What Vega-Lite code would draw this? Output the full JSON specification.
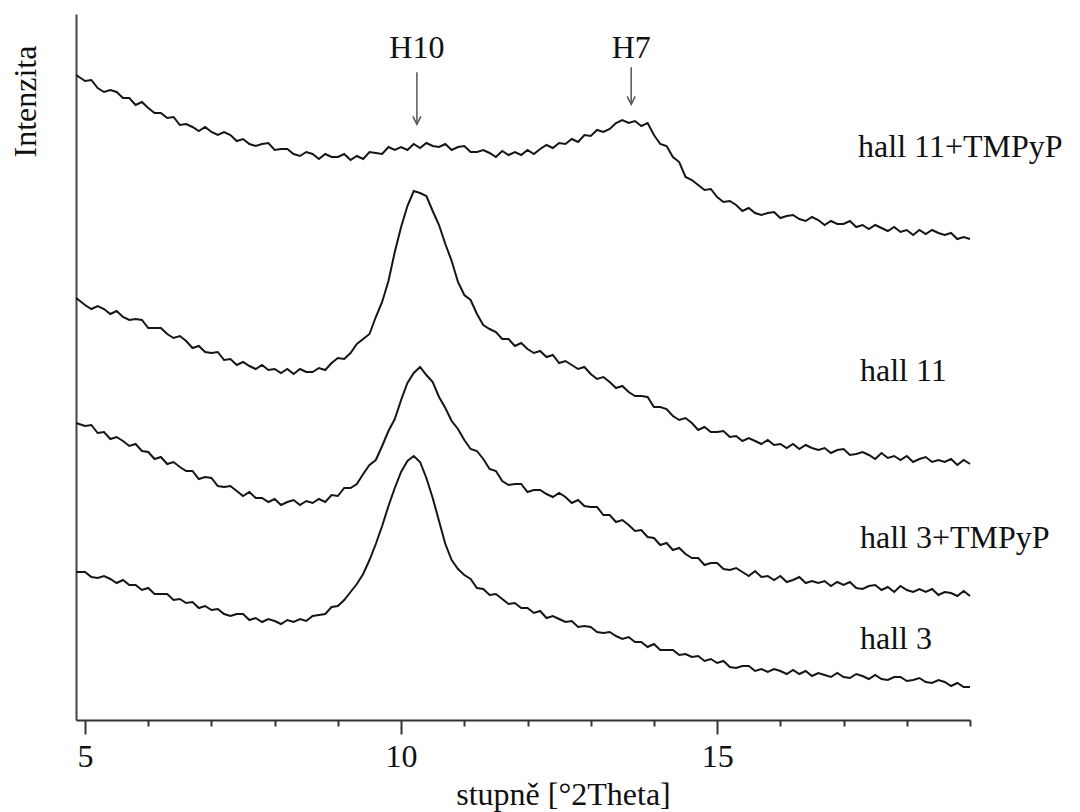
{
"$schema": "https://vega.github.io/schema/vega-lite/v6.json",
"width": 894, "height": 706,
"autosize": "none",
"padding": {"left": 76, "top": 14, "right": 110, "bottom": 92},
"background": "white",
"config": {"view": {"stroke": null}, "font": "Liberation Serif"},
"datasets": {
"curves": [
{"s":"A","x":4.86,"y":645},{"s":"A","x":5.0,"y":639},{"s":"A","x":5.1,"y":640},{"s":"A","x":5.2,"y":632},{"s":"A","x":5.3,"y":628},{"s":"A","x":5.4,"y":630},{"s":"A","x":5.5,"y":628},{"s":"A","x":5.6,"y":622},{"s":"A","x":5.7,"y":622},{"s":"A","x":5.8,"y":615},{"s":"A","x":5.9,"y":618},{"s":"A","x":6.0,"y":612},{"s":"A","x":6.1,"y":607},{"s":"A","x":6.2,"y":607},{"s":"A","x":6.3,"y":602},{"s":"A","x":6.4,"y":603},{"s":"A","x":6.5,"y":595},{"s":"A","x":6.6,"y":596},{"s":"A","x":6.7,"y":593},{"s":"A","x":6.8,"y":589},{"s":"A","x":6.9,"y":593},{"s":"A","x":7.0,"y":588},{"s":"A","x":7.1,"y":585},{"s":"A","x":7.2,"y":588},{"s":"A","x":7.3,"y":585},{"s":"A","x":7.4,"y":579},{"s":"A","x":7.5,"y":581},{"s":"A","x":7.6,"y":576},{"s":"A","x":7.7,"y":574},{"s":"A","x":7.8,"y":576},{"s":"A","x":7.9,"y":577},{"s":"A","x":8.0,"y":570},{"s":"A","x":8.1,"y":571},{"s":"A","x":8.2,"y":571},{"s":"A","x":8.3,"y":566},{"s":"A","x":8.4,"y":564},{"s":"A","x":8.5,"y":568},{"s":"A","x":8.6,"y":566},{"s":"A","x":8.7,"y":561},{"s":"A","x":8.8,"y":566},{"s":"A","x":8.9,"y":563},{"s":"A","x":9.0,"y":563},{"s":"A","x":9.1,"y":566},{"s":"A","x":9.2,"y":560},{"s":"A","x":9.3,"y":564},{"s":"A","x":9.4,"y":561},{"s":"A","x":9.5,"y":568},{"s":"A","x":9.6,"y":567},{"s":"A","x":9.7,"y":566},{"s":"A","x":9.8,"y":573},{"s":"A","x":9.9,"y":570},{"s":"A","x":10.0,"y":573},{"s":"A","x":10.1,"y":570},{"s":"A","x":10.2,"y":576},{"s":"A","x":10.3,"y":572},{"s":"A","x":10.4,"y":577},{"s":"A","x":10.5,"y":574},{"s":"A","x":10.6,"y":573},{"s":"A","x":10.7,"y":576},{"s":"A","x":10.8,"y":570},{"s":"A","x":10.9,"y":573},{"s":"A","x":11.0,"y":574},{"s":"A","x":11.1,"y":568},{"s":"A","x":11.2,"y":568},{"s":"A","x":11.3,"y":570},{"s":"A","x":11.4,"y":567},{"s":"A","x":11.5,"y":563},{"s":"A","x":11.6,"y":569},{"s":"A","x":11.7,"y":565},{"s":"A","x":11.8,"y":568},{"s":"A","x":11.9,"y":565},{"s":"A","x":12.0,"y":570},{"s":"A","x":12.1,"y":566},{"s":"A","x":12.2,"y":571},{"s":"A","x":12.3,"y":575},{"s":"A","x":12.4,"y":572},{"s":"A","x":12.5,"y":577},{"s":"A","x":12.6,"y":576},{"s":"A","x":12.7,"y":581},{"s":"A","x":12.8,"y":578},{"s":"A","x":12.9,"y":585},{"s":"A","x":13.0,"y":584},{"s":"A","x":13.1,"y":590},{"s":"A","x":13.2,"y":588},{"s":"A","x":13.3,"y":591},{"s":"A","x":13.4,"y":597},{"s":"A","x":13.5,"y":600},{"s":"A","x":13.6,"y":597},{"s":"A","x":13.7,"y":599},{"s":"A","x":13.8,"y":594},{"s":"A","x":13.9,"y":597},{"s":"A","x":14.0,"y":585},{"s":"A","x":14.1,"y":576},{"s":"A","x":14.2,"y":574},{"s":"A","x":14.3,"y":563},{"s":"A","x":14.4,"y":558},{"s":"A","x":14.5,"y":543},{"s":"A","x":14.6,"y":540},{"s":"A","x":14.7,"y":535},{"s":"A","x":14.8,"y":530},{"s":"A","x":14.9,"y":531},{"s":"A","x":15.0,"y":523},{"s":"A","x":15.1,"y":518},{"s":"A","x":15.2,"y":519},{"s":"A","x":15.3,"y":515},{"s":"A","x":15.4,"y":509},{"s":"A","x":15.5,"y":512},{"s":"A","x":15.6,"y":507},{"s":"A","x":15.7,"y":505},{"s":"A","x":15.8,"y":507},{"s":"A","x":15.9,"y":508},{"s":"A","x":16.0,"y":502},{"s":"A","x":16.1,"y":504},{"s":"A","x":16.2,"y":505},{"s":"A","x":16.3,"y":501},{"s":"A","x":16.4,"y":499},{"s":"A","x":16.5,"y":503},{"s":"A","x":16.6,"y":500},{"s":"A","x":16.7,"y":495},{"s":"A","x":16.8,"y":499},{"s":"A","x":16.9,"y":496},{"s":"A","x":17.0,"y":496},{"s":"A","x":17.1,"y":499},{"s":"A","x":17.2,"y":493},{"s":"A","x":17.3,"y":495},{"s":"A","x":17.4,"y":491},{"s":"A","x":17.5,"y":495},{"s":"A","x":17.6,"y":492},{"s":"A","x":17.7,"y":489},{"s":"A","x":17.8,"y":493},{"s":"A","x":17.9,"y":488},{"s":"A","x":18.0,"y":490},{"s":"A","x":18.1,"y":485},{"s":"A","x":18.2,"y":490},{"s":"A","x":18.3,"y":486},{"s":"A","x":18.4,"y":490},{"s":"A","x":18.5,"y":487},{"s":"A","x":18.6,"y":485},{"s":"A","x":18.7,"y":487},{"s":"A","x":18.8,"y":481},{"s":"A","x":18.9,"y":483},{"s":"A","x":19.0,"y":481},
{"s":"B","x":4.86,"y":422},{"s":"B","x":5.0,"y":415},{"s":"B","x":5.1,"y":411},{"s":"B","x":5.2,"y":414},{"s":"B","x":5.3,"y":411},{"s":"B","x":5.4,"y":406},{"s":"B","x":5.5,"y":409},{"s":"B","x":5.6,"y":403},{"s":"B","x":5.7,"y":400},{"s":"B","x":5.8,"y":401},{"s":"B","x":5.9,"y":400},{"s":"B","x":6.0,"y":392},{"s":"B","x":6.1,"y":392},{"s":"B","x":6.2,"y":392},{"s":"B","x":6.3,"y":386},{"s":"B","x":6.4,"y":382},{"s":"B","x":6.5,"y":384},{"s":"B","x":6.6,"y":379},{"s":"B","x":6.7,"y":372},{"s":"B","x":6.8,"y":374},{"s":"B","x":6.9,"y":368},{"s":"B","x":7.0,"y":367},{"s":"B","x":7.1,"y":368},{"s":"B","x":7.2,"y":360},{"s":"B","x":7.3,"y":361},{"s":"B","x":7.4,"y":355},{"s":"B","x":7.5,"y":358},{"s":"B","x":7.6,"y":354},{"s":"B","x":7.7,"y":351},{"s":"B","x":7.8,"y":355},{"s":"B","x":7.9,"y":350},{"s":"B","x":8.0,"y":351},{"s":"B","x":8.1,"y":347},{"s":"B","x":8.2,"y":351},{"s":"B","x":8.3,"y":346},{"s":"B","x":8.4,"y":351},{"s":"B","x":8.5,"y":348},{"s":"B","x":8.6,"y":348},{"s":"B","x":8.7,"y":352},{"s":"B","x":8.8,"y":350},{"s":"B","x":8.9,"y":357},{"s":"B","x":9.0,"y":362},{"s":"B","x":9.1,"y":361},{"s":"B","x":9.2,"y":367},{"s":"B","x":9.3,"y":376},{"s":"B","x":9.4,"y":381},{"s":"B","x":9.5,"y":386},{"s":"B","x":9.6,"y":403},{"s":"B","x":9.7,"y":418},{"s":"B","x":9.8,"y":439},{"s":"B","x":9.9,"y":468},{"s":"B","x":10.0,"y":493},{"s":"B","x":10.1,"y":514},{"s":"B","x":10.2,"y":529},{"s":"B","x":10.3,"y":527},{"s":"B","x":10.4,"y":524},{"s":"B","x":10.5,"y":509},{"s":"B","x":10.6,"y":495},{"s":"B","x":10.7,"y":476},{"s":"B","x":10.8,"y":459},{"s":"B","x":10.9,"y":438},{"s":"B","x":11.0,"y":425},{"s":"B","x":11.1,"y":420},{"s":"B","x":11.2,"y":406},{"s":"B","x":11.3,"y":395},{"s":"B","x":11.4,"y":391},{"s":"B","x":11.5,"y":388},{"s":"B","x":11.6,"y":381},{"s":"B","x":11.7,"y":381},{"s":"B","x":11.8,"y":374},{"s":"B","x":11.9,"y":377},{"s":"B","x":12.0,"y":371},{"s":"B","x":12.1,"y":367},{"s":"B","x":12.2,"y":369},{"s":"B","x":12.3,"y":363},{"s":"B","x":12.4,"y":365},{"s":"B","x":12.5,"y":357},{"s":"B","x":12.6,"y":359},{"s":"B","x":12.7,"y":355},{"s":"B","x":12.8,"y":351},{"s":"B","x":12.9,"y":353},{"s":"B","x":13.0,"y":346},{"s":"B","x":13.1,"y":341},{"s":"B","x":13.2,"y":343},{"s":"B","x":13.3,"y":338},{"s":"B","x":13.4,"y":332},{"s":"B","x":13.5,"y":334},{"s":"B","x":13.6,"y":328},{"s":"B","x":13.7,"y":324},{"s":"B","x":13.8,"y":324},{"s":"B","x":13.9,"y":323},{"s":"B","x":14.0,"y":313},{"s":"B","x":14.1,"y":313},{"s":"B","x":14.2,"y":311},{"s":"B","x":14.3,"y":304},{"s":"B","x":14.4,"y":300},{"s":"B","x":14.5,"y":302},{"s":"B","x":14.6,"y":297},{"s":"B","x":14.7,"y":290},{"s":"B","x":14.8,"y":293},{"s":"B","x":14.9,"y":288},{"s":"B","x":15.0,"y":288},{"s":"B","x":15.1,"y":289},{"s":"B","x":15.2,"y":283},{"s":"B","x":15.3,"y":284},{"s":"B","x":15.4,"y":279},{"s":"B","x":15.5,"y":282},{"s":"B","x":15.6,"y":279},{"s":"B","x":15.7,"y":276},{"s":"B","x":15.8,"y":280},{"s":"B","x":15.9,"y":275},{"s":"B","x":16.0,"y":276},{"s":"B","x":16.1,"y":272},{"s":"B","x":16.2,"y":276},{"s":"B","x":16.3,"y":271},{"s":"B","x":16.4,"y":275},{"s":"B","x":16.5,"y":272},{"s":"B","x":16.6,"y":270},{"s":"B","x":16.7,"y":272},{"s":"B","x":16.8,"y":267},{"s":"B","x":16.9,"y":270},{"s":"B","x":17.0,"y":271},{"s":"B","x":17.1,"y":265},{"s":"B","x":17.2,"y":266},{"s":"B","x":17.3,"y":268},{"s":"B","x":17.4,"y":265},{"s":"B","x":17.5,"y":261},{"s":"B","x":17.6,"y":267},{"s":"B","x":17.7,"y":262},{"s":"B","x":17.8,"y":264},{"s":"B","x":17.9,"y":260},{"s":"B","x":18.0,"y":264},{"s":"B","x":18.1,"y":258},{"s":"B","x":18.2,"y":261},{"s":"B","x":18.3,"y":263},{"s":"B","x":18.4,"y":258},{"s":"B","x":18.5,"y":260},{"s":"B","x":18.6,"y":258},{"s":"B","x":18.7,"y":261},{"s":"B","x":18.8,"y":255},{"s":"B","x":18.9,"y":260},{"s":"B","x":19.0,"y":256},
{"s":"C","x":4.86,"y":297},{"s":"C","x":5.0,"y":294},{"s":"C","x":5.1,"y":295},{"s":"C","x":5.2,"y":287},{"s":"C","x":5.3,"y":288},{"s":"C","x":5.4,"y":281},{"s":"C","x":5.5,"y":283},{"s":"C","x":5.6,"y":279},{"s":"C","x":5.7,"y":274},{"s":"C","x":5.8,"y":276},{"s":"C","x":5.9,"y":269},{"s":"C","x":6.0,"y":268},{"s":"C","x":6.1,"y":261},{"s":"C","x":6.2,"y":263},{"s":"C","x":6.3,"y":256},{"s":"C","x":6.4,"y":258},{"s":"C","x":6.5,"y":253},{"s":"C","x":6.6,"y":249},{"s":"C","x":6.7,"y":249},{"s":"C","x":6.8,"y":241},{"s":"C","x":6.9,"y":243},{"s":"C","x":7.0,"y":242},{"s":"C","x":7.1,"y":234},{"s":"C","x":7.2,"y":233},{"s":"C","x":7.3,"y":234},{"s":"C","x":7.4,"y":229},{"s":"C","x":7.5,"y":224},{"s":"C","x":7.6,"y":228},{"s":"C","x":7.7,"y":222},{"s":"C","x":7.8,"y":222},{"s":"C","x":7.9,"y":218},{"s":"C","x":8.0,"y":221},{"s":"C","x":8.1,"y":215},{"s":"C","x":8.2,"y":218},{"s":"C","x":8.3,"y":220},{"s":"C","x":8.4,"y":215},{"s":"C","x":8.5,"y":219},{"s":"C","x":8.6,"y":217},{"s":"C","x":8.7,"y":221},{"s":"C","x":8.8,"y":218},{"s":"C","x":8.9,"y":225},{"s":"C","x":9.0,"y":224},{"s":"C","x":9.1,"y":232},{"s":"C","x":9.2,"y":232},{"s":"C","x":9.3,"y":236},{"s":"C","x":9.4,"y":246},{"s":"C","x":9.5,"y":255},{"s":"C","x":9.6,"y":260},{"s":"C","x":9.7,"y":274},{"s":"C","x":9.8,"y":289},{"s":"C","x":9.9,"y":301},{"s":"C","x":10.0,"y":320},{"s":"C","x":10.1,"y":337},{"s":"C","x":10.2,"y":347},{"s":"C","x":10.3,"y":353},{"s":"C","x":10.4,"y":345},{"s":"C","x":10.5,"y":338},{"s":"C","x":10.6,"y":323},{"s":"C","x":10.7,"y":312},{"s":"C","x":10.8,"y":299},{"s":"C","x":10.9,"y":291},{"s":"C","x":11.0,"y":280},{"s":"C","x":11.1,"y":271},{"s":"C","x":11.2,"y":269},{"s":"C","x":11.3,"y":261},{"s":"C","x":11.4,"y":251},{"s":"C","x":11.5,"y":249},{"s":"C","x":11.6,"y":239},{"s":"C","x":11.7,"y":235},{"s":"C","x":11.8,"y":236},{"s":"C","x":11.9,"y":236},{"s":"C","x":12.0,"y":228},{"s":"C","x":12.1,"y":230},{"s":"C","x":12.2,"y":230},{"s":"C","x":12.3,"y":226},{"s":"C","x":12.4,"y":223},{"s":"C","x":12.5,"y":227},{"s":"C","x":12.6,"y":223},{"s":"C","x":12.7,"y":217},{"s":"C","x":12.8,"y":220},{"s":"C","x":12.9,"y":214},{"s":"C","x":13.0,"y":213},{"s":"C","x":13.1,"y":213},{"s":"C","x":13.2,"y":205},{"s":"C","x":13.3,"y":205},{"s":"C","x":13.4,"y":198},{"s":"C","x":13.5,"y":200},{"s":"C","x":13.6,"y":195},{"s":"C","x":13.7,"y":189},{"s":"C","x":13.8,"y":190},{"s":"C","x":13.9,"y":183},{"s":"C","x":14.0,"y":182},{"s":"C","x":14.1,"y":175},{"s":"C","x":14.2,"y":177},{"s":"C","x":14.3,"y":170},{"s":"C","x":14.4,"y":172},{"s":"C","x":14.5,"y":166},{"s":"C","x":14.6,"y":162},{"s":"C","x":14.7,"y":162},{"s":"C","x":14.8,"y":155},{"s":"C","x":14.9,"y":157},{"s":"C","x":15.0,"y":157},{"s":"C","x":15.1,"y":151},{"s":"C","x":15.2,"y":150},{"s":"C","x":15.3,"y":152},{"s":"C","x":15.4,"y":148},{"s":"C","x":15.5,"y":144},{"s":"C","x":15.6,"y":149},{"s":"C","x":15.7,"y":143},{"s":"C","x":15.8,"y":144},{"s":"C","x":15.9,"y":140},{"s":"C","x":16.0,"y":144},{"s":"C","x":16.1,"y":138},{"s":"C","x":16.2,"y":140},{"s":"C","x":16.3,"y":143},{"s":"C","x":16.4,"y":137},{"s":"C","x":16.5,"y":139},{"s":"C","x":16.6,"y":137},{"s":"C","x":16.7,"y":139},{"s":"C","x":16.8,"y":134},{"s":"C","x":16.9,"y":138},{"s":"C","x":17.0,"y":135},{"s":"C","x":17.1,"y":138},{"s":"C","x":17.2,"y":132},{"s":"C","x":17.3,"y":131},{"s":"C","x":17.4,"y":134},{"s":"C","x":17.5,"y":135},{"s":"C","x":17.6,"y":130},{"s":"C","x":17.7,"y":133},{"s":"C","x":17.8,"y":128},{"s":"C","x":17.9,"y":134},{"s":"C","x":18.0,"y":130},{"s":"C","x":18.1,"y":128},{"s":"C","x":18.2,"y":131},{"s":"C","x":18.3,"y":128},{"s":"C","x":18.4,"y":131},{"s":"C","x":18.5,"y":125},{"s":"C","x":18.6,"y":128},{"s":"C","x":18.7,"y":127},{"s":"C","x":18.8,"y":124},{"s":"C","x":18.9,"y":129},{"s":"C","x":19.0,"y":124},
{"s":"D","x":4.86,"y":148},{"s":"D","x":5.0,"y":148},{"s":"D","x":5.1,"y":143},{"s":"D","x":5.2,"y":142},{"s":"D","x":5.3,"y":144},{"s":"D","x":5.4,"y":141},{"s":"D","x":5.5,"y":137},{"s":"D","x":5.6,"y":140},{"s":"D","x":5.7,"y":135},{"s":"D","x":5.8,"y":135},{"s":"D","x":5.9,"y":130},{"s":"D","x":6.0,"y":132},{"s":"D","x":6.1,"y":126},{"s":"D","x":6.2,"y":126},{"s":"D","x":6.3,"y":126},{"s":"D","x":6.4,"y":120},{"s":"D","x":6.5,"y":121},{"s":"D","x":6.6,"y":117},{"s":"D","x":6.7,"y":118},{"s":"D","x":6.8,"y":112},{"s":"D","x":6.9,"y":114},{"s":"D","x":7.0,"y":110},{"s":"D","x":7.1,"y":111},{"s":"D","x":7.2,"y":106},{"s":"D","x":7.3,"y":104},{"s":"D","x":7.4,"y":106},{"s":"D","x":7.5,"y":106},{"s":"D","x":7.6,"y":100},{"s":"D","x":7.7,"y":102},{"s":"D","x":7.8,"y":98},{"s":"D","x":7.9,"y":101},{"s":"D","x":8.0,"y":99},{"s":"D","x":8.1,"y":96},{"s":"D","x":8.2,"y":100},{"s":"D","x":8.3,"y":98},{"s":"D","x":8.4,"y":101},{"s":"D","x":8.5,"y":99},{"s":"D","x":8.6,"y":104},{"s":"D","x":8.7,"y":105},{"s":"D","x":8.8,"y":106},{"s":"D","x":8.9,"y":113},{"s":"D","x":9.0,"y":114},{"s":"D","x":9.1,"y":120},{"s":"D","x":9.2,"y":128},{"s":"D","x":9.3,"y":136},{"s":"D","x":9.4,"y":146},{"s":"D","x":9.5,"y":160},{"s":"D","x":9.6,"y":176},{"s":"D","x":9.7,"y":194},{"s":"D","x":9.8,"y":214},{"s":"D","x":9.9,"y":232},{"s":"D","x":10.0,"y":248},{"s":"D","x":10.1,"y":259},{"s":"D","x":10.2,"y":264},{"s":"D","x":10.3,"y":258},{"s":"D","x":10.4,"y":242},{"s":"D","x":10.5,"y":222},{"s":"D","x":10.6,"y":199},{"s":"D","x":10.7,"y":176},{"s":"D","x":10.8,"y":160},{"s":"D","x":10.9,"y":151},{"s":"D","x":11.0,"y":145},{"s":"D","x":11.1,"y":141},{"s":"D","x":11.2,"y":132},{"s":"D","x":11.3,"y":131},{"s":"D","x":11.4,"y":125},{"s":"D","x":11.5,"y":126},{"s":"D","x":11.6,"y":121},{"s":"D","x":11.7,"y":116},{"s":"D","x":11.8,"y":117},{"s":"D","x":11.9,"y":112},{"s":"D","x":12.0,"y":112},{"s":"D","x":12.1,"y":107},{"s":"D","x":12.2,"y":109},{"s":"D","x":12.3,"y":102},{"s":"D","x":12.4,"y":104},{"s":"D","x":12.5,"y":101},{"s":"D","x":12.6,"y":98},{"s":"D","x":12.7,"y":99},{"s":"D","x":12.8,"y":93},{"s":"D","x":12.9,"y":94},{"s":"D","x":13.0,"y":93},{"s":"D","x":13.1,"y":88},{"s":"D","x":13.2,"y":87},{"s":"D","x":13.3,"y":88},{"s":"D","x":13.4,"y":84},{"s":"D","x":13.5,"y":81},{"s":"D","x":13.6,"y":83},{"s":"D","x":13.7,"y":78},{"s":"D","x":13.8,"y":78},{"s":"D","x":13.9,"y":73},{"s":"D","x":14.0,"y":76},{"s":"D","x":14.1,"y":70},{"s":"D","x":14.2,"y":70},{"s":"D","x":14.3,"y":70},{"s":"D","x":14.4,"y":65},{"s":"D","x":14.5,"y":66},{"s":"D","x":14.6,"y":63},{"s":"D","x":14.7,"y":64},{"s":"D","x":14.8,"y":59},{"s":"D","x":14.9,"y":61},{"s":"D","x":15.0,"y":57},{"s":"D","x":15.1,"y":59},{"s":"D","x":15.2,"y":53},{"s":"D","x":15.3,"y":52},{"s":"D","x":15.4,"y":54},{"s":"D","x":15.5,"y":54},{"s":"D","x":15.6,"y":49},{"s":"D","x":15.7,"y":51},{"s":"D","x":15.8,"y":48},{"s":"D","x":15.9,"y":51},{"s":"D","x":16.0,"y":49},{"s":"D","x":16.1,"y":46},{"s":"D","x":16.2,"y":50},{"s":"D","x":16.3,"y":46},{"s":"D","x":16.4,"y":49},{"s":"D","x":16.5,"y":44},{"s":"D","x":16.6,"y":47},{"s":"D","x":16.7,"y":45},{"s":"D","x":16.8,"y":43},{"s":"D","x":16.9,"y":47},{"s":"D","x":17.0,"y":43},{"s":"D","x":17.1,"y":42},{"s":"D","x":17.2,"y":46},{"s":"D","x":17.3,"y":44},{"s":"D","x":17.4,"y":41},{"s":"D","x":17.5,"y":45},{"s":"D","x":17.6,"y":41},{"s":"D","x":17.7,"y":40},{"s":"D","x":17.8,"y":43},{"s":"D","x":17.9,"y":43},{"s":"D","x":18.0,"y":39},{"s":"D","x":18.1,"y":40},{"s":"D","x":18.2,"y":42},{"s":"D","x":18.3,"y":38},{"s":"D","x":18.4,"y":37},{"s":"D","x":18.5,"y":40},{"s":"D","x":18.6,"y":38},{"s":"D","x":18.7,"y":34},{"s":"D","x":18.8,"y":37},{"s":"D","x":18.9,"y":33},{"s":"D","x":19.0,"y":33}
],
"labels": [
{"x":17.23,"y":562.7,"t":"hall 11+TMPyP"},
{"x":17.26,"y":339,"t":"hall 11"},
{"x":17.26,"y":172,"t":"hall 3+TMPyP"},
{"x":17.26,"y":70.7,"t":"hall 3"}
],
"peaks": [
{"x":10.25,"top":647.7,"tip":595.7,"ty":662,"t":"H10"},
{"x":13.64,"top":652.7,"tip":615.7,"ty":662,"t":"H7"}
]
},
"layer": [
{
"data": {"name": "curves"},
"mark": {"type": "line", "color": "#151515", "strokeWidth": 2, "clip": false},
"encoding": {
"x": {"field": "x", "type": "quantitative", "scale": {"domain": [4.857, 19], "nice": false, "zero": false},
"axis": {"values": [5,6,7,8,9,10,11,12,13,14,15,16,17,18,19], "grid": false, "format": "d",
"labelExpr": "datum.value % 5 === 0 ? datum.label : ''",
"tickSize": {"condition": {"test": "datum.value % 5 === 0", "value": 14}, "value": 6},
"tickColor": "#333", "tickWidth": 2, "domainColor": "#333", "domainWidth": 2,
"labelFontSize": 32, "labelColor": "#111", "labelBaseline": "alphabetic", "labelPadding": 32, "labelFlush": false,
"title": "stupně [°2Theta]", "titleFontSize": 32, "titleFontWeight": "normal", "titleColor": "#111",
"titleX": 487, "titleY": 84, "titleBaseline": "alphabetic", "titleAlign": "center"}},
"y": {"field": "y", "type": "quantitative", "scale": {"domain": [0, 706], "nice": false, "zero": false},
"axis": {"ticks": false, "labels": false, "grid": false, "domainColor": "#444", "domainWidth": 2,
"title": "Intenzita", "titleFontSize": 32, "titleFontWeight": "normal", "titleColor": "#111",
"titleX": -41, "titleY": 87, "titleAlign": "center", "titleBaseline": "alphabetic", "titleAngle": -90}},
"detail": {"field": "s"}
}
},
{
"data": {"name": "labels"},
"mark": {"type": "text", "align": "left", "baseline": "alphabetic", "fontSize": 32, "color": "#111", "clip": false},
"encoding": {
"x": {"field": "x", "type": "quantitative"},
"y": {"field": "y", "type": "quantitative"},
"text": {"field": "t"}
}
},
{
"data": {"name": "peaks"},
"mark": {"type": "rule", "color": "#555", "strokeWidth": 1.5},
"encoding": {
"x": {"field": "x", "type": "quantitative"},
"y": {"field": "top", "type": "quantitative"},
"y2": {"field": "tip"}
}
},
{
"data": {"name": "peaks"},
"mark": {"type": "point", "shape": "M-0.5,-1L0,0L0.5,-1", "filled": false, "size": 256, "stroke": "#555", "strokeWidth": 1.5, "opacity": 1},
"encoding": {
"x": {"field": "x", "type": "quantitative"},
"y": {"field": "tip", "type": "quantitative"}
}
},
{
"data": {"name": "peaks"},
"mark": {"type": "text", "align": "center", "baseline": "alphabetic", "fontSize": 32, "color": "#111"},
"encoding": {
"x": {"field": "x", "type": "quantitative"},
"y": {"field": "ty", "type": "quantitative"},
"text": {"field": "t"}
}
}
]
}
